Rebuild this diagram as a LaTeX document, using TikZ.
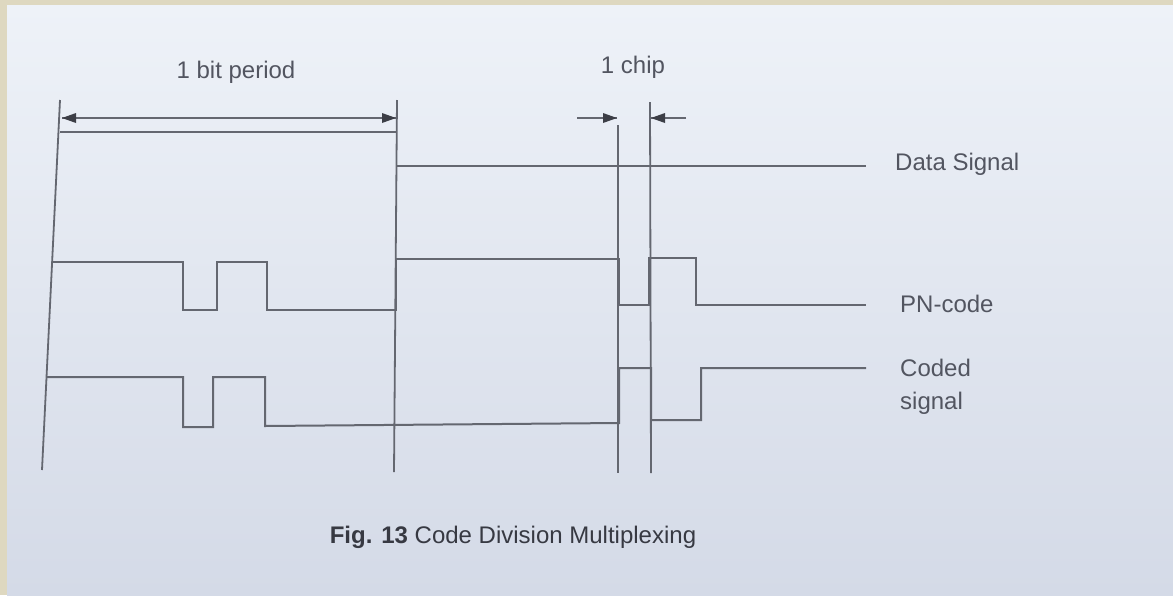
\documentclass[tikz,border=0pt]{standalone}
\usepackage{fontspec}
\setmainfont{Liberation Sans}
\usetikzlibrary{arrows.meta}
\definecolor{frame}{RGB}{222,216,192}
\definecolor{paper}{RGB}{238,242,248}
\definecolor{paperlow}{RGB}{212,218,231}
\definecolor{ink}{RGB}{100,103,112}
\definecolor{tipink}{RGB}{60,62,70}
\definecolor{txt}{RGB}{82,85,96}
\definecolor{captxt}{RGB}{55,57,66}
\begin{document}
\begin{tikzpicture}[x=1pt,y=-1pt,
  wave/.style={draw=ink,line width=2pt,line join=miter},
  guide/.style={draw=ink,line width=1.8pt},
  dimline/.style={draw=ink,line width=1.6pt},
  lbl/.style={text=txt,font=\fontsize{24}{33}\selectfont,inner sep=0pt},
  headshape/.style={fill=tipink,draw=none},
]
\fill[frame] (0,0) rectangle (1173,595);
\shade[top color=paper,bottom color=paperlow] (7,5) rectangle (1173,595);
\useasboundingbox (0,0) rectangle (1173,595);

% labels
\node[lbl] (bit) at (236,72) {1 bit period};
\node[lbl] (chip) at (633,67) {1 chip};
\node[lbl,anchor=west] (ds) at (895,164) {Data Signal};
\node[lbl,anchor=west] (pn) at (900,304) {PN-code};
\node[lbl,anchor=north west,align=left] (cs) at (900,359) {Coded\\signal};
\node[lbl,text=captxt] (cap) at (513,537) {\bfseries Fig. 13\mdseries\ Code Division Multiplexing};

% guide lines
\coordinate (g0t) at (60,100);  \coordinate (g0b) at (42,470);
\coordinate (g1t) at (397,100); \coordinate (g1b) at (394,472);
\coordinate (g2t) at (618,125); \coordinate (g2b) at (618,473);
\coordinate (g3t) at (650,102); \coordinate (g3b) at (651,473);
\draw[guide] (g0t) -- (g0b);
\draw[guide] (g1t) -- (g1b);
\draw[guide] (g2t) -- (g2b);
\draw[guide] (g3t) -- (g3b);

% dimension arrows (lines + filled heads)
\coordinate (a0) at (62,118);
\coordinate (a1) at (396,118);
\coordinate (c1) at (577,118);
\coordinate (c2) at (686,118);
\coordinate (c1e) at (617,118);
\coordinate (c2e) at (651,118);
\draw[dimline] (a0) -- (a1);
\draw[dimline] (c1) -- (c1e);
\draw[dimline] (c2) -- (c2e);
\fill[headshape] (a0) -- ++(14,-5) -- ++(0,10) -- cycle;
\fill[headshape] (a1) -- ++(-14,-5) -- ++(0,10) -- cycle;
\fill[headshape] (c1e) -- ++(-14,-5) -- ++(0,10) -- cycle;
\fill[headshape] (c2e) -- ++(14,-5) -- ++(0,10) -- cycle;

% data signal
\draw[wave] (60,132) -- (396,132);
\draw[wave] (396,166) -- (866,166);

% PN-code
\draw[wave] (52,262) -- (183,262) -- (183,310) -- (217,310) -- (217,262)
  -- (267,262) -- (267,310) -- (396,310) -- (396,259) -- (619,259)
  -- (619,305) -- (649,305) -- (649,258) -- (696,258) -- (696,305) -- (866,305);

% coded signal
\draw[wave] (47,377) -- (183,377) -- (183,427) -- (213,427) -- (213,377)
  -- (265,377) -- (265,426) -- (619,423) -- (619,368) -- (651,368)
  -- (651,420) -- (701,420) -- (701,368) -- (866,368);
\end{tikzpicture}
\end{document}
